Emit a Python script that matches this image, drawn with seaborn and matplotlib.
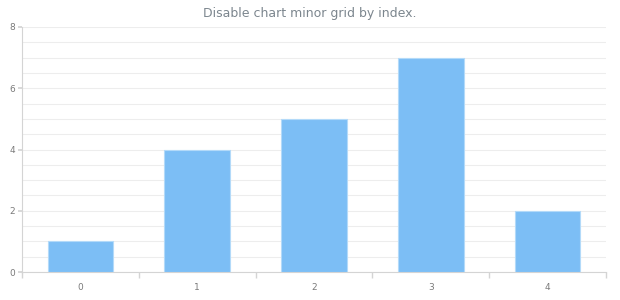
import matplotlib
matplotlib.use("Agg")
import matplotlib.pyplot as plt
import seaborn as sns
import pandas as pd
import numpy as np

categories = ["0", "1", "2", "3", "4"]
values = [1, 4, 5, 7, 2]
y_ticks = [0, 2, 4, 6, 8]

sns.set_theme(style="white")
plt.rcParams['font.family'] = ['DejaVu Sans']

df = pd.DataFrame({"cat": categories, "val": values})

fig = plt.figure(figsize=(6.2, 3.0), dpi=100)
ax = fig.add_axes([22/620, 28/300, (606-22)/620, (272-27)/300])

sns.barplot(data=df, x="cat", y="val", ax=ax, color="#7cbef5", saturation=1,
            width=0.56, edgecolor="#b3daf9", linewidth=0.8, zorder=3)

ax.set_ylim(0, 8)
ax.set_xlim(-0.5, 4.5)
ax.set_yticks(y_ticks)
ax.set_yticks(np.arange(0, 8.01, 0.5), minor=True)
ax.grid(True, axis="y", which="both", color="#ededed", linewidth=0.8, zorder=0)
ax.set_axisbelow(True)
ax.set_xticks(range(len(categories)))
ax.set_xticklabels(categories)
ax.set_xticks(np.arange(-0.5, 4.51, 1), minor=True)
ax.set_xlabel("")
ax.set_ylabel("")

for s in ["top", "right"]:
    ax.spines[s].set_visible(False)
for s in ["left", "bottom"]:
    ax.spines[s].set_color("#d4d4d4")
    ax.spines[s].set_linewidth(0.8)

ax.tick_params(axis="y", which="major", length=3, color="#d4d4d4", labelsize=6.5,
               labelcolor="#7a7a7a", pad=2, left=True)
ax.tick_params(axis="y", which="minor", length=0)
ax.tick_params(axis="x", which="major", length=0, labelsize=6.5, labelcolor="#7a7a7a", pad=8)
ax.tick_params(axis="x", which="minor", length=4, color="#d4d4d4", bottom=True)

fig.text(0.5, 0.955, "Disable chart minor grid by index.", ha="center", va="center",
         fontsize=9, color="#7c868e")

fig.savefig("out.png", dpi=100, facecolor="white")
